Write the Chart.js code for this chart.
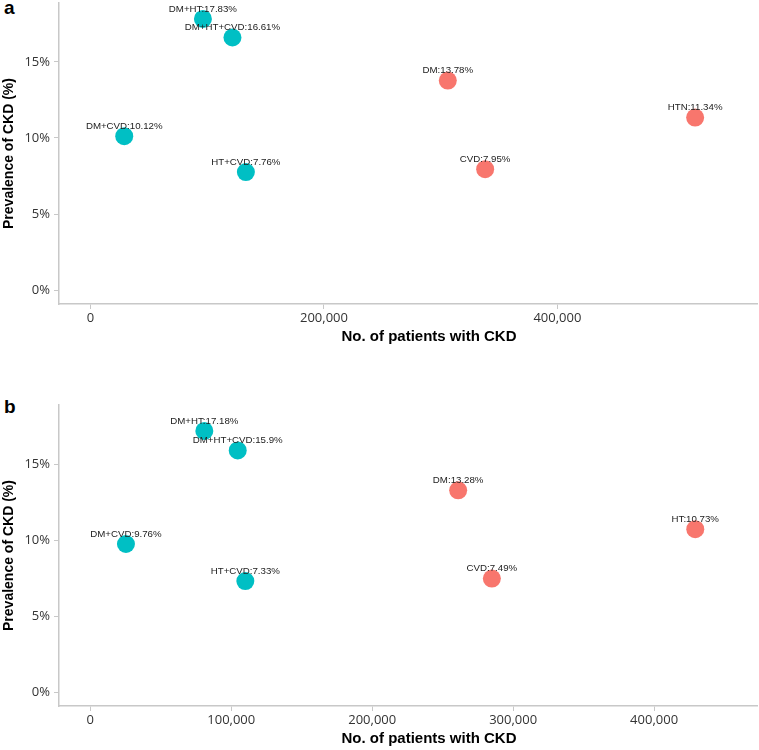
<!DOCTYPE html>
<html>
<head>
<meta charset="utf-8">
<script src="https://cdn.jsdelivr.net/npm/chart.js@4.4.1/dist/chart.umd.min.js"></script>
<style>
  html, body { margin: 0; padding: 0; background: #ffffff; }
  #wrap { position: relative; width: 759px; height: 750px; overflow: hidden; }
  .tag { position: absolute; left: 4px; font: bold 19px "Liberation Sans", Arial, sans-serif; color: #000; line-height: 1; }
  canvas { position: absolute; left: 0; }
</style>
</head>
<body>
<div id="wrap">
  <div class="tag" style="top:-2px">a</div>
  <canvas id="chartA" width="759" height="348" style="top:0px"></canvas>
  <div class="tag" style="top:397px">b</div>
  <canvas id="chartB" width="759" height="378" style="top:372px"></canvas>
</div>
<script>
// ---------- data ----------
const categoriesA = ['DM+HT', 'DM+HT+CVD', 'DM+CVD', 'HT+CVD', 'DM', 'CVD', 'HTN'];
const patientsA   = [96300, 121600, 28900, 133100, 306100, 338100, 518000];
const prevalenceA = [17.83, 16.61, 10.12, 7.76, 13.78, 7.95, 11.34];

const categoriesB = ['DM+HT', 'DM+HT+CVD', 'DM+CVD', 'HT+CVD', 'DM', 'CVD', 'HT'];
const patientsB   = [80900, 104600, 25300, 110000, 261000, 284900, 429200];
const prevalenceB = [17.18, 15.9, 9.76, 7.33, 13.28, 7.49, 10.73];

// group of each point: 'multi' = combined conditions, 'single' = one condition
const groupsA = ['multi', 'multi', 'multi', 'multi', 'single', 'single', 'single'];
const groupsB = ['multi', 'multi', 'multi', 'multi', 'single', 'single', 'single'];

const xTicksA = [0, 200000, 400000];
const xTicksB = [0, 100000, 200000, 300000, 400000];
const yTicks  = [0, 5, 10, 15];

const xTitle = 'No. of patients with CKD';
const yTitle = 'Prevalence of CKD (%)';

// ---------- helpers ----------
const TEAL = '#00BFC4';
const SALMON = '#F8766D';
const AXIS = '#c8c8c8';

function buildDatasets(cats, xs, ys, groups) {
  const mk = (g, color) => {
    const idx = cats.map((c, i) => i).filter(i => groups[i] === g);
    return {
      label: g,
      data: idx.map(i => ({ x: xs[i], y: ys[i] })),
      pointLabels: idx.map(i => cats[i] + ':' + ys[i] + '%'),
      backgroundColor: color,
      borderWidth: 0,
      pointRadius: 9,
      pointHoverRadius: 9,
      clip: false
    };
  };
  return [mk('multi', TEAL), mk('single', SALMON)];
}

const pointLabelPlugin = {
  id: 'pointLabelPlugin',
  afterDatasetsDraw(chart) {
    const ctx = chart.ctx;
    ctx.save();
    ctx.font = '9.7px "Liberation Sans", Arial, sans-serif';
    ctx.fillStyle = '#222';
    ctx.textAlign = 'center';
    ctx.textBaseline = 'middle';
    chart.data.datasets.forEach((ds, i) => {
      const meta = chart.getDatasetMeta(i);
      meta.data.forEach((pt, j) => {
        ctx.fillText(ds.pointLabels[j], pt.x, pt.y - 10);
      });
    });
    ctx.restore();
  }
};

const xTitlePlugin = {
  id: 'xTitlePlugin',
  afterDraw(chart) {
    const ctx = chart.ctx;
    ctx.save();
    ctx.font = 'bold 15px "Liberation Sans", Arial, sans-serif';
    ctx.fillStyle = '#000';
    ctx.textAlign = 'center';
    ctx.textBaseline = 'middle';
    ctx.fillText(xTitle, 429, chart.chartArea.bottom + 33);
    ctx.restore();
  }
};

function makeChart(id, cats, xs, ys, groups, xTicks, xMin, xMax, yMin, yMax, padTop) {
  return new Chart(document.getElementById(id), {
    type: 'scatter',
    data: { datasets: buildDatasets(cats, xs, ys, groups) },
    options: {
      responsive: false,
      animation: false,
      devicePixelRatio: 1,
      layout: { autoPadding: false, padding: { top: padTop, right: 2, left: 0, bottom: 0 } },
      plugins: { legend: { display: false }, tooltip: { enabled: false } },
      scales: {
        x: {
          type: 'linear',
          min: xMin, max: xMax,
          afterBuildTicks: s => { s.ticks = xTicks.map(v => ({ value: v })); },
          afterFit: s => { s.height = 44; s.paddingLeft = 0; s.paddingRight = 0; },
          ticks: {
            callback: v => v.toLocaleString('en-US'),
            font: { family: '"Open Sans", sans-serif', size: 13 },
            color: '#333',
            padding: 1,
            maxRotation: 0
          },
          grid: { display: true, drawOnChartArea: false, drawTicks: true, tickLength: 5, color: AXIS, lineWidth: 1 },
          border: { display: true, color: AXIS, width: 1.5 },
          title: { display: false }
        },
        y: {
          type: 'linear',
          min: yMin, max: yMax,
          afterBuildTicks: s => { s.ticks = yTicks.map(v => ({ value: v })); },
          afterFit: s => { s.width = 59; s.paddingTop = 0; s.paddingBottom = 0; },
          ticks: {
            callback: v => v + '%',
            font: { family: '"Open Sans", sans-serif', size: 13 },
            color: '#333',
            padding: 4
          },
          grid: { display: true, drawOnChartArea: false, drawTicks: true, tickLength: 5, color: AXIS, lineWidth: 1 },
          border: { display: true, color: AXIS, width: 1.5 },
          title: {
            display: true,
            text: yTitle,
            color: '#000',
            font: { family: '"Liberation Sans", Arial, sans-serif', size: 14, weight: 'bold' },
            padding: { top: 1, bottom: 0 }
          }
        }
      }
    },
    plugins: [pointLabelPlugin, xTitlePlugin]
  });
}

makeChart('chartA', categoriesA, patientsA, prevalenceA, groupsA, xTicksA, -27000, 571000, -0.92, 18.88, 3);
makeChart('chartB', categoriesB, patientsB, prevalenceB, groupsB, xTicksB, -22200, 473000, -0.87, 18.88, 33);
</script>
</body>
</html>
